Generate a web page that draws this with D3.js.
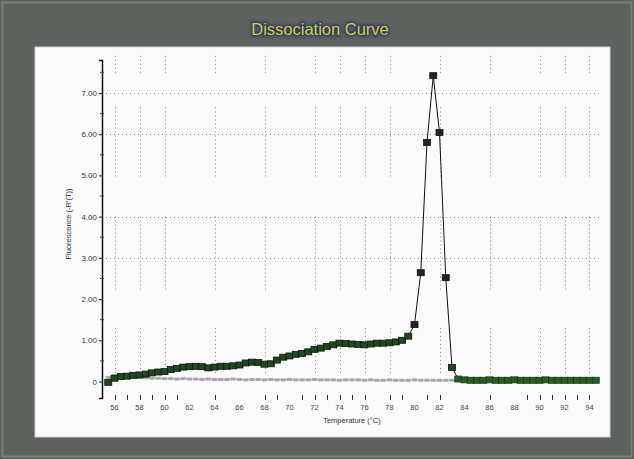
<!DOCTYPE html>
<html>
<head>
<meta charset="utf-8">
<script src="https://cdn.jsdelivr.net/npm/d3@7/dist/d3.min.js"></script>
<style>
  html, body { margin: 0; padding: 0; background: #5d625f; }
  svg { display: block; }
</style>
</head>
<body>
<script>
// Melt-curve samples, every 0.5 °C
const temps = [55.5,56,56.5,57,57.5,58,58.5,59,59.5,60,60.5,61,61.5,62,62.5,63,63.5,64,64.5,65,
  65.5,66,66.5,67,67.5,68,68.5,69,69.5,70,70.5,71,71.5,72,72.5,73,73.5,74,74.5,75,
  75.5,76,76.5,77,77.5,78,78.5,79,79.5,80,80.5,81,81.5,82,82.5,83,83.5,84,84.5,85,
  85.5,86,86.5,87,87.5,88,88.5,89,89.5,90,90.5,91,91.5,92,92.5,93,93.5,94,94.5];

// -R'(T) of the sample well
const sampleValues = [-0.02,0.08,0.12,0.13,0.15,0.16,0.18,0.21,0.23,0.24,0.29,0.32,0.35,0.36,0.37,0.36,0.33,0.35,0.37,0.37,
  0.38,0.40,0.45,0.47,0.46,0.42,0.43,0.52,0.59,0.62,0.66,0.68,0.72,0.78,0.81,0.85,0.89,0.93,0.92,0.91,
  0.90,0.89,0.91,0.93,0.93,0.94,0.96,1.00,1.10,1.38,2.64,5.80,7.42,6.04,2.52,0.34,0.06,0.04,0.03,0.03,
  0.03,0.04,0.03,0.03,0.03,0.04,0.03,0.03,0.03,0.03,0.04,0.03,0.03,0.03,0.03,0.03,0.03,0.03,0.03];

// -R'(T) of the control well (55.5 – 84 °C)
const controlValues = [0.10,0.14,0.15,0.13,0.12,0.10,0.09,0.08,0.08,0.07,0.07,0.06,0.07,0.06,0.06,0.05,0.06,0.05,0.05,0.05,
  0.06,0.05,0.04,0.05,0.05,0.04,0.05,0.04,0.04,0.05,0.04,0.04,0.04,0.05,0.04,0.04,0.04,0.03,0.04,0.04,
  0.04,0.03,0.04,0.03,0.03,0.04,0.03,0.03,0.03,0.04,0.03,0.03,0.03,0.03,0.03,0.03,0.03,0.03];

const xTickLabels = [56,58,60,62,64,66,68,70,72,74,76,78,80,82,84,86,88,90,92,94];
const xTickMarks = [56,57,58,59,60,61,64,68,69,71,72,73,74,75,76,78,79,81,82,86,89,90,91,92,93,94];
const yTicks = [0,1,2,3,4,5,6,7];
const yMinorTicks = [0.5,1.5,2.5,3.5,4.5,5.5,6.5,7.5];
const hGrid = [3,4,6,7];
const vGrid = [56,58,60,64,68,72,74,76,78,82,86,90,92,94];
const vGridBands = [[7.9,7.45],[6.65,4.95],[4.0,2.2],[1.3,0.2]];

const W = 634, H = 459;
const svg = d3.select("body").append("svg").attr("width", W).attr("height", H);

// window background and white plot panel
svg.append("rect").attr("x", 0).attr("y", 0).attr("width", W).attr("height", H).attr("fill", "#5d625f");
svg.append("rect").attr("x", 2.5).attr("y", 2.5).attr("width", W - 5).attr("height", H - 5)
  .attr("fill", "none").attr("stroke", "#777c79").attr("stroke-width", 2);
svg.append("rect").attr("x", 35).attr("y", 47).attr("width", 575).attr("height", 390)
  .attr("fill", "#fbfbfb").attr("stroke", "#d0d0d0").attr("stroke-width", 1);

// title
const defs = svg.append("defs");
defs.append("filter").attr("id", "halo").append("feGaussianBlur").attr("stdDeviation", 1.6);
const titleFont = "Liberation Sans, Arial, sans-serif";
svg.append("text").attr("x", 320).attr("y", 35).attr("text-anchor", "middle")
  .attr("font-family", titleFont).attr("font-size", 16.5)
  .attr("fill", "#2d3a66").attr("stroke", "#2d3a66").attr("stroke-width", 3)
  .attr("filter", "url(#halo)").text("Dissociation Curve");
svg.append("text").attr("x", 320).attr("y", 35).attr("text-anchor", "middle")
  .attr("font-family", titleFont).attr("font-size", 16.5)
  .attr("fill", "#d6cc36").text("Dissociation Curve");

const x = d3.scaleLinear().domain([55, 95]).range([102, 602]);
const y = d3.scaleLinear().domain([-0.4, 7.8]).range([398, 60]);

// dotted grid
const grid = svg.append("g").attr("stroke", "#8a8a8a").attr("stroke-width", 1)
  .attr("stroke-dasharray", "1,3");
grid.selectAll("line.h").data(hGrid).join("line").attr("class", "h")
  .attr("x1", x(55)).attr("x2", x(95)).attr("y1", d => Math.round(y(d)) + 0.5).attr("y2", d => Math.round(y(d)) + 0.5);
vGrid.forEach(t => {
  grid.selectAll(null).data(vGridBands).join("line")
    .attr("x1", Math.round(x(t)) + 0.5).attr("x2", Math.round(x(t)) + 0.5)
    .attr("y1", d => y(d[0])).attr("y2", d => y(d[1]));
});

// y axis
const yAxis = d3.axisLeft(y).tickValues(yTicks).tickSizeOuter(0).tickSize(3).tickPadding(2)
  .tickFormat(d => d === 0 ? "0" : d.toFixed(2));
const gy = svg.append("g").attr("transform", "translate(102,0)").call(yAxis);
gy.select(".domain").attr("stroke", "#111").attr("stroke-width", 1.5);
gy.selectAll(".tick line").attr("stroke", "#222");
gy.selectAll(".tick text").attr("font-family", "Liberation Sans, Arial, sans-serif")
  .attr("font-size", 8).attr("fill", "#333");
svg.append("g").selectAll("line").data(yMinorTicks).join("line")
  .attr("x1", 100).attr("x2", 104).attr("y1", d => y(d)).attr("y2", d => y(d))
  .attr("stroke", "#444").attr("stroke-width", 1);

// x axis: tick marks and labels, no baseline
svg.append("g").selectAll("line").data(xTickMarks).join("line")
  .attr("x1", d => Math.round(x(d)) + 0.5).attr("x2", d => Math.round(x(d)) + 0.5)
  .attr("y1", 395).attr("y2", 400).attr("stroke", "#333").attr("stroke-width", 1);
svg.append("g").selectAll("text").data(xTickLabels).join("text")
  .attr("x", d => x(d)).attr("y", 410).attr("text-anchor", "middle")
  .attr("font-family", "Liberation Sans, Arial, sans-serif").attr("font-size", 7.5)
  .attr("fill", "#444").text(d => d);

// axis titles
svg.append("text").attr("x", 352).attr("y", 423).attr("text-anchor", "middle")
  .attr("font-family", "Liberation Sans, Arial, sans-serif").attr("font-size", 7.5)
  .attr("fill", "#333").text("Temperature (°C)");
svg.append("text").attr("transform", "translate(71,224) rotate(-90)").attr("text-anchor", "middle")
  .attr("font-family", "Liberation Sans, Arial, sans-serif").attr("font-size", 7.5)
  .attr("fill", "#333").text("Fluorescence (-R'(T))");

// control series (grey)
const control = controlValues.map((v, i) => ({ t: temps[i], v }));
const line = d3.line().x(d => x(d.t)).y(d => y(d.v));
svg.append("path").datum(control).attr("d", line).attr("fill", "none")
  .attr("stroke", "#b8b8b8").attr("stroke-width", 1.5);
svg.append("g").selectAll("rect").data(control).join("rect")
  .attr("x", d => x(d.t) - 2.5).attr("y", d => y(d.v) - 1.5).attr("width", 5).attr("height", 3)
  .attr("fill", "#a9a9a9");

// sample series: dark markers on the peak, greener on the baseline after melting
const sample = sampleValues.map((v, i) => ({ t: temps[i], v }));
svg.append("path").datum(sample).attr("d", line).attr("fill", "none")
  .attr("stroke", "#111").attr("stroke-width", 1);
svg.append("g").selectAll("rect").data(sample).join("rect")
  .attr("x", d => x(d.t) - 3.5).attr("y", d => y(d.v) - 3).attr("width", 7).attr("height", 6)
  .attr("fill", d => d.v > 1.2 ? "#1c261c" : (d.t > 83.2 ? "#276027" : "#224622"))
  .attr("stroke", d => d.t > 83.2 ? "#1a3a1a" : "#101410").attr("stroke-width", 0.8);
</script>
</body>
</html>
